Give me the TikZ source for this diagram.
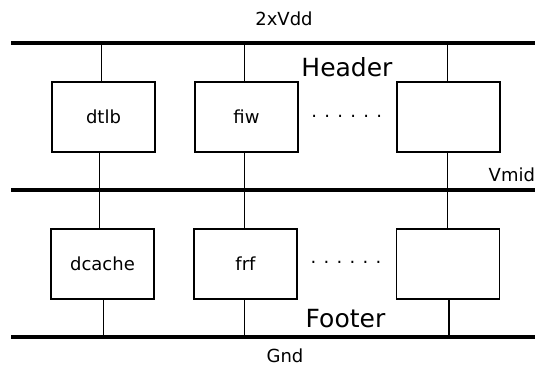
\documentclass[tikz,border=0pt]{standalone}
\usepackage{fontspec}
\setmainfont{DejaVu Sans}
\begin{document}
\begin{tikzpicture}[x=1pt,y=-1pt,
  blk/.style={draw=black,line width=1.5pt,minimum width=103pt,minimum height=70pt,inner sep=0pt,
    font=\fontsize{18}{20}\selectfont},
  rail/.style={line width=4pt,line cap=butt},
  wire/.style={line width=1.5pt},
  lbl/.style={font=\fontsize{18}{20}\selectfont,inner sep=0pt},
  big/.style={font=\fontsize{25}{28}\selectfont,inner sep=0pt}]
\useasboundingbox (0,0) rectangle (535,366);
% rails
\coordinate (topL) at (11,43.3);   \coordinate (topR) at (535,43.3);
\coordinate (midL) at (11,190.3);  \coordinate (midR) at (535,190.3);
\coordinate (botL) at (11,337);    \coordinate (botR) at (535,337);
\draw[rail] (topL) -- (topR);
\draw[rail] (midL) -- (midR);
\draw[rail] (botL) -- (botR);
% blocks
\node[blk] (u1) at (103.5,117) {dtlb};
\node[blk] (u2) at (246.5,117) {fiw};
\node[blk] (u3) at (448.5,117) {};
\node[blk] (l1) at (102.5,264) {dcache};
\node[blk] (l2) at (245.5,264) {frf};
\node[blk] (l3) at (448,264) {};
% header connectors
\draw[wire] ([xshift=-1.8]u1.north) -- ([xshift=-1.8]u1.north |- topL);
\draw[wire] ([xshift=-1.8]u2.north) -- ([xshift=-1.8]u2.north |- topL);
\draw[wire] ([xshift=-1.1]u3.north) -- ([xshift=-1.1]u3.north |- topL);
% upper to lower through Vmid
\draw[wire] ([xshift=-3.8]u1.south) -- ([xshift=-3.8]u1.south |- l1.north);
\draw[wire] ([xshift=-1.8]u2.south) -- ([xshift=-1.8,yshift=-2]u2.south |- l2.north);
\draw[wire] ([xshift=-0.8]u3.south) -- ([xshift=-0.8,yshift=-2]u3.south |- l3.north);
% footer connectors
\draw[wire] ([xshift=0.8]l1.south) -- ([xshift=0.8]l1.south |- botL);
\draw[wire] ([xshift=-0.8]l2.south) -- ([xshift=-0.8]l2.south |- botL);
\draw[wire] ([xshift=0.8]l3.south) -- ([xshift=0.8]l3.south |- botL);
% dots
\node[lbl,anchor=base] (d1) at (346.8,117.5) {.\hspace{7.3pt}.\hspace{7.3pt}.\hspace{7.3pt}.\hspace{7.3pt}.\hspace{7.3pt}.};
\node[lbl,anchor=base] (d2) at (346,263.5) {.\hspace{7.3pt}.\hspace{7.3pt}.\hspace{7.3pt}.\hspace{7.3pt}.\hspace{7.3pt}.};
% labels
\node[lbl,anchor=base] (vdd) at (284,25.5) {2xVdd};
\node[big,anchor=base] (hdr) at (347,77) {Header};
\node[lbl,anchor=base west] (vmid) at (488.5,182) {Vmid};
\node[big,anchor=base] (ftr) at (345.5,327.5) {Footer};
\node[lbl,anchor=base] (gnd) at (285,362) {Gnd};
\end{tikzpicture}
\end{document}
